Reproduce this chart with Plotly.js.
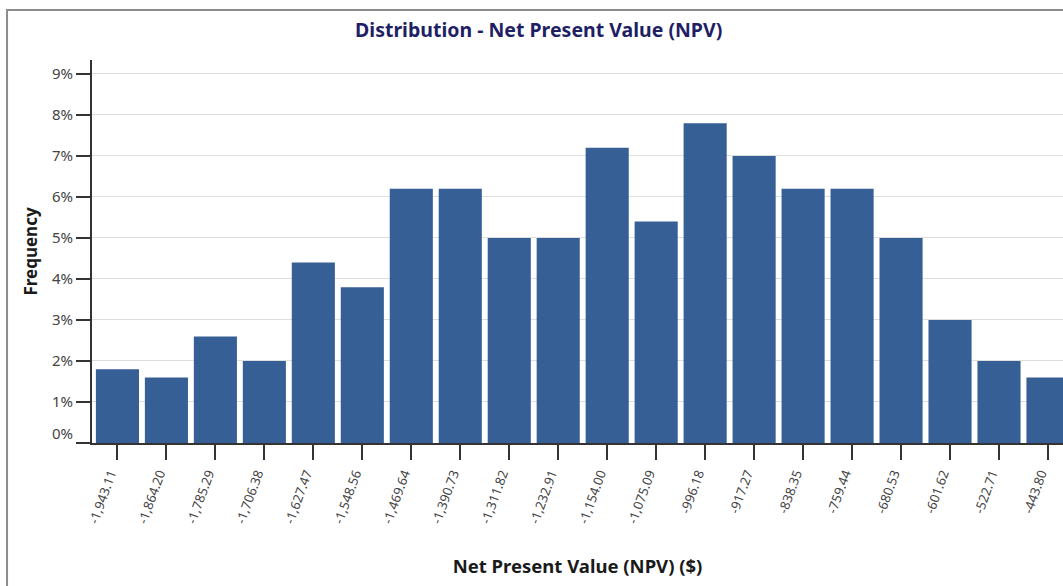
<!DOCTYPE html>
<html>
<head>
<meta charset="utf-8">
<script src="https://cdn.plot.ly/plotly-3.0.1.min.js"></script>
<style>
  html, body { margin: 0; padding: 0; background: #ffffff; }
  #chart { width: 1063px; height: 586px; }
</style>
</head>
<body>
<div id="chart"></div>
<script>
// Bin midpoints (NPV, $)
const binMids = [-1943.11, -1864.20, -1785.29, -1706.38, -1627.47, -1548.56, -1469.64, -1390.73, -1311.82, -1232.91,
                 -1154.00, -1075.09, -996.18, -917.27, -838.35, -759.44, -680.53, -601.62, -522.71, -443.80];
const binLabels = ["-1,943.11", "-1,864.20", "-1,785.29", "-1,706.38", "-1,627.47", "-1,548.56", "-1,469.64", "-1,390.73",
                   "-1,311.82", "-1,232.91", "-1,154.00", "-1,075.09", "-996.18", "-917.27", "-838.35", "-759.44",
                   "-680.53", "-601.62", "-522.71", "-443.80"];
// Frequency (%)
const frequency = [1.8, 1.6, 2.6, 2.0, 4.4, 3.8, 6.2, 6.2, 5.0, 5.0, 7.2, 5.4, 7.8, 7.0, 6.2, 6.2, 5.0, 3.0, 2.0, 1.6];
const yTickVals = [0, 1, 2, 3, 4, 5, 6, 7, 8, 9];
const yTickText = ["", "1%", "2%", "3%", "4%", "5%", "6%", "7%", "8%", "9%"];

const font = "Noto Sans, Open Sans, Arial, sans-serif";

const trace = {
  type: "bar",
  x: binMids,
  y: frequency,
  marker: { color: "#365f96", line: { width: 0 } },
  hoverinfo: "x+y"
};

const layout = {
  width: 1063,
  height: 586,
  paper_bgcolor: "#ffffff",
  plot_bgcolor: "#ffffff",
  margin: { l: 92, r: 0, t: 60, b: 143, pad: 0 },
  bargap: 0.12,
  showlegend: false,
  font: { family: font, color: "#333333", size: 12 },
  title: {
    text: "<b>Distribution - Net Present Value (NPV)</b>",
    font: { family: font, size: 19.5, color: "#1f1f66" },
    x: 0.46, xanchor: "center", xref: "paper",
    y: 0.948, yanchor: "middle"
  },
  xaxis: {
    type: "linear",
    range: [-1984.1, -419.6],
    tickmode: "array",
    tickvals: binMids,
    ticktext: binLabels,
    tickangle: -70,
    tickfont: { family: font, size: 13, color: "#444444" },
    ticklabelstandoff: 1,
    ticklabelshift: -7,
    ticks: "outside",
    ticklen: 15,
    tickwidth: 2,
    tickcolor: "#333333",
    showline: true,
    linecolor: "#333333",
    linewidth: 2,
    showgrid: false,
    zeroline: false,
    automargin: false,
    title: {
      text: "<b>Net Present Value (NPV) ($)</b>",
      font: { family: font, size: 18.5, color: "#1a1a1a" },
      standoff: 35
    }
  },
  yaxis: {
    range: [0, 9.34],
    tickmode: "array",
    tickvals: yTickVals,
    ticktext: yTickText,
    tickfont: { family: font, size: 15, color: "#444444" },
    ticks: "outside",
    ticklen: 14,
    tickwidth: 2,
    tickcolor: "#333333",
    showline: true,
    linecolor: "#333333",
    linewidth: 2,
    showgrid: true,
    gridcolor: "#dedede",
    gridwidth: 1,
    zeroline: false,
    automargin: false,
    title: {
      text: "<b>Frequency</b>",
      font: { family: font, size: 17, color: "#1a1a1a" },
      standoff: 10
    }
  },
  annotations: [
    {
      text: "0%", xref: "paper", yref: "y", x: 0, y: 0.25,
      xanchor: "right", yanchor: "middle", xshift: -17, showarrow: false,
      font: { family: font, size: 15, color: "#444444" }
    }
  ],
  shapes: [
    {
      type: "path", xref: "paper", yref: "paper",
      path: "M -0.0875,-0.40 L -0.0875,1.1305 L 1.01,1.1305",
      line: { color: "#8c8c8c", width: 2 }
    }
  ]
};

Plotly.newPlot("chart", [trace], layout, { staticPlot: true, displayModeBar: false });
</script>
</body>
</html>
